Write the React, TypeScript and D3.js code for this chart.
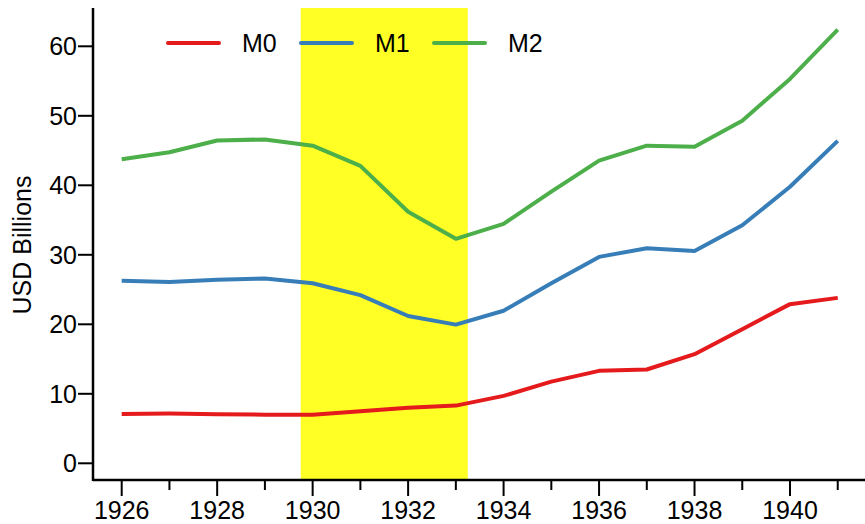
import React from "react";
import * as d3 from "d3";

const years = [1926, 1927, 1928, 1929, 1930, 1931, 1932, 1933, 1934, 1935, 1936, 1937, 1938, 1939, 1940, 1941];
const m0 = [7.1, 7.15, 7.05, 7.0, 7.0, 7.5, 8.0, 8.3, 9.7, 11.75, 13.3, 13.5, 15.7, 19.3, 22.9, 23.8];
const m1 = [26.25, 26.1, 26.4, 26.6, 25.9, 24.2, 21.2, 19.95, 21.95, 25.9, 29.7, 30.95, 30.55, 34.25, 39.8, 46.4];
const m2 = [43.75, 44.75, 46.45, 46.6, 45.7, 42.8, 36.2, 32.3, 34.45, 39.1, 43.55, 45.7, 45.55, 49.3, 55.3, 62.4];
const seriesNames = ["M0", "M1", "M2"];
const seriesColors = ["#e41a1c", "#377eb8", "#4daf4a"];
const yTicks = [0, 10, 20, 30, 40, 50, 60];
const xMajor = [1926, 1928, 1930, 1932, 1934, 1936, 1938, 1940];
const xMinor = [1927, 1929, 1931, 1933, 1935, 1937, 1939, 1941];
const band = [1929.75, 1933.25];

export default function App() {
  const W = 865, H = 524;
  const x = d3.scaleLinear().domain([1926, 1940]).range([121.7, 790]);
  const y = d3.scaleLinear().domain([0, 60]).range([463.3, 46.3]);
  const axisX = 93, axisY = 480, axisTop = 8;
  const data = [m0, m1, m2];
  const line = d3.line<[number, number]>().x(d => x(d[0])).y(d => y(d[1]));
  const font = "'Liberation Sans', Arial, Helvetica, sans-serif";
  const fs = 25;
  return (
    <svg width={W} height={H} style={{ position: "absolute", left: 0, top: 0, background: "#fff" }}
      fontFamily={font}>
      <rect x={x(band[0])} y={axisTop} width={x(band[1]) - x(band[0])} height={axisY - axisTop} fill="#ffff26" />
      {data.map((s, i) => (
        <path key={i} d={line(years.map((yr, j) => [yr, s[j]] as [number, number])) || ""}
          fill="none" stroke={seriesColors[i]} strokeWidth={4} strokeLinejoin="round" />
      ))}
      {/* axes */}
      <line x1={axisX} x2={axisX} y1={axisTop} y2={axisY + 1} stroke="#000" strokeWidth={2.5} />
      <line x1={axisX} x2={W} y1={axisY} y2={axisY} stroke="#000" strokeWidth={2.5} />
      {yTicks.map(t => (
        <g key={t}>
          <line x1={axisX - 15} x2={axisX} y1={y(t)} y2={y(t)} stroke="#000" strokeWidth={2} />
          <text x={axisX - 16} y={y(t)} dy="0.35em" textAnchor="end" fontSize={fs} fill="#000">{t}</text>
        </g>
      ))}
      {xMajor.map(t => (
        <g key={t}>
          <line x1={x(t)} x2={x(t)} y1={axisY} y2={axisY + 16} stroke="#000" strokeWidth={2} />
          <text x={x(t)} y={519} textAnchor="middle" fontSize={fs} fill="#000">{t}</text>
        </g>
      ))}
      {xMinor.map(t => (
        <line key={t} x1={x(t)} x2={x(t)} y1={axisY} y2={axisY + 10} stroke="#000" strokeWidth={2} />
      ))}
      <text transform={`translate(31,245) rotate(-90)`} textAnchor="middle" fontSize={fs} fill="#000">USD Billions</text>
      {/* legend */}
      {seriesNames.map((n, i) => (
        <g key={n} transform={`translate(${168 + i * 133},43)`}>
          <line x1={0} x2={51} y1={0} y2={0} stroke={seriesColors[i]} strokeWidth={4} strokeLinecap="round" />
          <text x={74} y={0} dy="0.36em" fontSize={fs} fill="#000">{n}</text>
        </g>
      ))}
    </svg>
  );
}
